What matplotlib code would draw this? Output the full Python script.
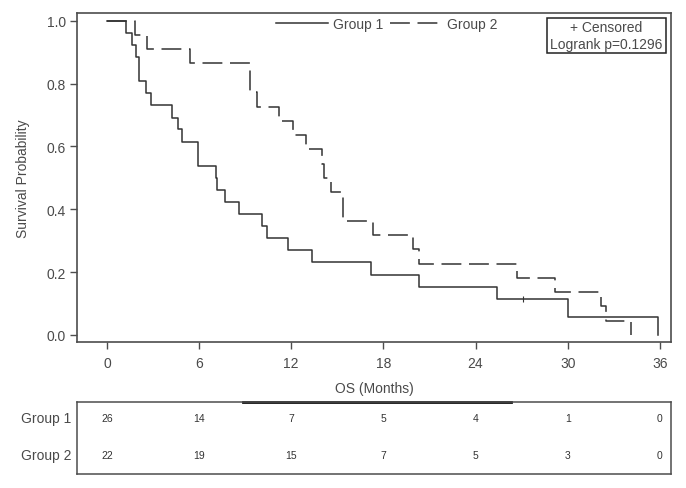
import matplotlib
matplotlib.use('Agg')
import matplotlib.pyplot as plt
from matplotlib.patches import Rectangle
import numpy as np

plt.rcParams['font.family'] = ['Liberation Sans', 'DejaVu Sans']
txt_col = '#4a4a4a'
line_col = '#333333'
spine_col = '#4d4d4d'

# Kaplan-Meier steps
g1_t = [0, 1.22, 1.61, 1.87, 2.09, 2.57, 2.89, 4.24, 4.63, 4.89, 5.94, 7.09, 7.17,
        7.68, 8.57, 10.13, 10.40, 11.79, 13.37, 17.20, 20.33, 25.37, 30.03, 35.87]
g1_s = [1.0, 0.962, 0.923, 0.885, 0.808, 0.769, 0.731, 0.692, 0.654, 0.615, 0.538,
        0.500, 0.462, 0.423, 0.385, 0.346, 0.308, 0.269, 0.231, 0.192, 0.154, 0.115,
        0.058, 0.0]
g1_cens_t = [27.1]
g1_cens_s = [0.115]

g2_t = [0, 1.81, 2.61, 5.39, 9.31, 9.74, 11.22, 12.10, 12.96, 13.98, 14.13, 14.60,
        15.35, 17.35, 19.96, 20.29, 26.70, 29.20, 32.14, 32.50, 34.10]
g2_s = [1.0, 0.955, 0.909, 0.864, 0.773, 0.727, 0.682, 0.636, 0.591, 0.545, 0.500,
        0.455, 0.364, 0.318, 0.273, 0.227, 0.182, 0.136, 0.091, 0.045, 0.0]

# number at risk
risk_times = [0, 6, 12, 18, 24, 30, 36]
g1_risk = [26, 14, 7, 5, 4, 1, 0]
g2_risk = [22, 19, 15, 7, 5, 3, 0]

W, H = 686, 489
fig = plt.figure(figsize=(W / 100, H / 100), dpi=100)

# pixel layout of the reference
l, r, t, b = 77, 671, 14, 343
x0_px, px_per_month = 106.9, 15.36
ax = fig.add_axes([l / W, 1 - b / H, (r - l) / W, (b - t) / H])
ax.step(g1_t, g1_s, where='post', color=line_col, lw=1.1, label='Group 1')
ax.step(g2_t, g2_s, where='post', color=line_col, lw=1.1, dashes=(13, 5),
        label='Group 2')
ax.plot(g1_cens_t, g1_cens_s, ls='none', marker='|', ms=5, mew=0.8, color=line_col)

ax.set_xlim((l - x0_px) / px_per_month, (r - x0_px) / px_per_month)
ax.set_ylim(-0.0223, 1.0245)
ax.set_xticks(risk_times)
yt = np.arange(0, 1.01, 0.2)
ax.set_yticks(yt)
ax.set_yticklabels([f'{v:.1f}' for v in yt])
ax.tick_params(labelsize=10, length=5, width=1, color=spine_col, labelcolor=txt_col)
ax.tick_params(axis='x', pad=5)
ax.tick_params(axis='y', pad=3)
for sp in ax.spines.values():
    sp.set_color(spine_col)
    sp.set_linewidth(1.2)
ax.set_ylabel('Survival Probability', fontsize=10, labelpad=12, color=txt_col)
ax.set_xlabel('OS (Months)', fontsize=10, labelpad=8, color=txt_col)

leg = ax.legend(loc='center', bbox_to_anchor=(0.521, 0.966), ncol=2,
                frameon=False, fontsize=10, handlelength=3.8, columnspacing=0.5,
                handletextpad=0.3, borderpad=0, borderaxespad=0)
for txt in leg.get_texts():
    txt.set_color(txt_col)

# censored / logrank box
bx0, bx1, by0, by1 = 546.7, 666, 19.3, 54.3
ax.add_patch(Rectangle(((bx0 - l) / (r - l), 1 - (by1 - t) / (b - t)),
                       (bx1 - bx0) / (r - l), (by1 - by0) / (b - t),
                       transform=ax.transAxes, fill=True, fc='white', ec='#222222',
                       lw=1.1, zorder=5))
cx = ((bx0 + bx1) / 2 - l) / (r - l)
ax.text(cx, 1 - (28.3 - t) / (b - t), '+ Censored', transform=ax.transAxes,
        ha='center', va='center', fontsize=10, color=txt_col, zorder=6)
ax.text(cx, 1 - (45 - t) / (b - t), 'Logrank p=0.1296', transform=ax.transAxes,
        ha='center', va='center', fontsize=10, color=txt_col, zorder=6)

# at-risk table
tl, tr, tt, tb = 77, 671, 403, 475
tax = fig.add_axes([tl / W, 1 - tb / H, (tr - tl) / W, (tb - tt) / H])
tax.set_xlim((tl - x0_px) / px_per_month, (tr - x0_px) / px_per_month)
tax.set_ylim(0, 1)
tax.set_xticks([])
tax.set_yticks([])
for sp in tax.spines.values():
    sp.set_color(spine_col)
    sp.set_linewidth(1.1)
y1 = (tb - 419.3) / (tb - tt)
y2 = (tb - 455.7) / (tb - tt)
for x, n1, n2 in zip(risk_times, g1_risk, g2_risk):
    tax.text(x, y1, str(n1), ha='center', va='center', fontsize=7.5, color=line_col)
    tax.text(x, y2, str(n2), ha='center', va='center', fontsize=7.5, color=line_col)
tax.text(-0.009, y1, 'Group 1', transform=tax.transAxes, ha='right', va='center',
         fontsize=10, color=txt_col)
tax.text(-0.009, y2, 'Group 2', transform=tax.transAxes, ha='right', va='center',
         fontsize=10, color=txt_col)
# darker segment on the top edge of the table
tax.plot([(243 - tl) / (tr - tl), (511 - tl) / (tr - tl)], [1, 1],
         transform=tax.transAxes, color='#111111', lw=2, clip_on=False)

fig.savefig('out.png', dpi=100)
